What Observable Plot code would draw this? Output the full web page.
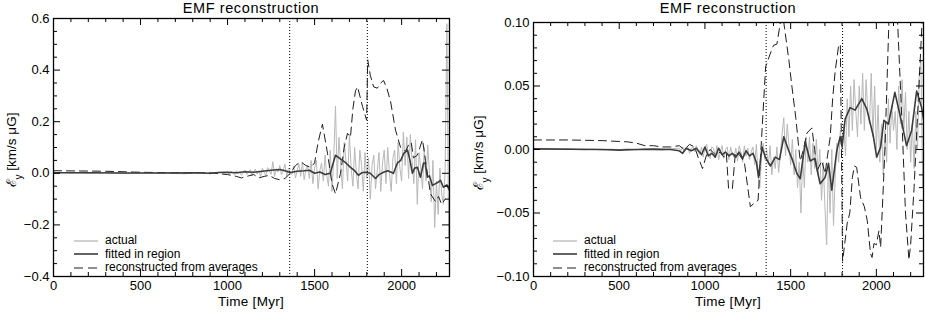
<!DOCTYPE html>
<html><head><meta charset="utf-8">
<script src="https://cdn.jsdelivr.net/npm/d3@7"></script>
<script src="https://cdn.jsdelivr.net/npm/@observablehq/plot@0.6"></script>
<style>
body{margin:0;background:#fff;font-family:"Liberation Sans",Arial,sans-serif;color:#000;font-weight:normal;}
#wrap{position:relative;width:925px;height:313px;overflow:hidden;background:#fff;}
.panel{position:absolute;top:0;}
.title{position:absolute;top:0;font-size:14.5px;line-height:16px;letter-spacing:0.6px;font-weight:normal;transform:translateX(-50%);white-space:nowrap;}
.xlab{position:absolute;top:294px;font-size:13.5px;line-height:16px;letter-spacing:0.3px;font-weight:normal;transform:translateX(-50%);white-space:nowrap;}
.leg{position:absolute;font-size:12px;line-height:13px;white-space:nowrap;}
.leg div{height:13.5px;display:flex;align-items:center;}
.leg svg{margin-right:7px;}
</style></head><body><div id="wrap"></div>
<script>
// ---------- shared axis data ----------
const xDomain = [0, 2275];
const xMajor = [0, 500, 1000, 1500, 2000];
const xMinor = [100,200,300,400,600,700,800,900,1100,1200,1300,1400,1600,1700,1800,1900,2100,2200];
const regionBounds = [1357, 1803];
const titleText = "EMF reconstruction";
const xLabel = "Time [Myr]";
const legendLabels = ["actual", "fitted in region", "reconstructed from averages"];

// ---------- left panel data ----------
const leftYDomain = [-0.4, 0.6];
const leftYMajor = [-0.4, -0.2, 0.0, 0.2, 0.4, 0.6];
const leftYMinor = [-0.35,-0.3,-0.25,-0.15,-0.1,-0.05,0.05,0.1,0.15,0.25,0.3,0.35,0.45,0.5,0.55];

const leftActualEarly = [0.002,0.003,0.001,0.002,0.0,0.001,0.002,0.0,-0.001,0.001,0.0,0.002,-0.001,0.001,0.0,-0.002,0.001,0.003,-0.002,0.004]; // t = 0..950 step 50
const leftActualLate = [ // t = 1000..2280 step 10
 0.004,-0.003,0.008,0.001,-0.006,0.01,-0.002,0.006,-0.008,0.003,
 0.012,-0.004,0.002,0.014,-0.009,0.006,0.016,-0.003,0.01,-0.012,
 0.02,0.004,-0.008,0.022,0.01,-0.004,0.045,-0.012,0.018,0.005,
 0.03,-0.006,0.012,0.035,-0.012,0.02,0.004,-0.004,0.028,-0.018,
 0.01,0.036,-0.012,0.042,-0.025,0.015,0.03,-0.02,0.05,-0.04,
 0.02,0.05,-0.06,0.01,0.04,-0.03,0.07,-0.01,-0.05,0.09,
 -0.07,0.06,0.26,-0.02,0.14,0.03,-0.06,0.12,0.05,-0.03,
 0.15,0.02,-0.05,0.1,0.0,-0.06,0.09,0.03,-0.07,0.08,
 -0.02,0.06,-0.1,0.03,0.07,-0.06,0.01,0.08,-0.07,0.04,
 0.09,-0.04,0.1,0.0,-0.07,0.06,0.09,-0.04,0.12,0.02,
 -0.03,0.16,0.03,0.14,-0.02,0.15,0.05,-0.04,0.13,-0.12,
 0.08,0.02,-0.06,0.1,-0.03,0.11,0.0,-0.11,0.05,-0.21,
 -0.03,-0.16,0.02,-0.08,-0.12,0.01,0.58,-0.25,-0.1
];
const leftFitted = [[0,0.002],[200,0.002],[400,0.001],[600,0.001],[800,0.002],[900,0.0],[950,0.003],[1000,0.004],[1050,0.002],[1100,0.006],[1150,0.004],[1200,0.008],[1250,0.012],[1300,0.015],[1330,0.01],[1360,0.003],[1400,0.008],[1440,0.01],[1470,0.012],[1500,0.0],[1530,0.005],[1560,-0.005],[1590,0.0],[1620,0.07],[1650,0.055],[1680,0.04],[1706,0.023],[1730,0.01],[1752,-0.008],[1770,0.002],[1792,0.004],[1820,0.0],[1850,-0.02],[1870,-0.005],[1896,0.004],[1920,0.01],[1953,0.0],[1976,0.04],[1995,0.05],[2011,0.076],[2034,0.09],[2048,0.05],[2062,0.0],[2075,0.02],[2091,0.023],[2108,-0.015],[2126,0.04],[2135,0.04],[2148,-0.015],[2160,-0.01],[2177,-0.047],[2195,-0.04],[2210,-0.035],[2223,-0.027],[2240,-0.054],[2260,-0.045],[2275,-0.066]];
const leftRecon = [[0,0.01],[300,0.008],[500,0.004],[700,0.002],[900,0.002],[1000,-0.005],[1050,-0.012],[1080,-0.018],[1120,-0.01],[1150,-0.005],[1180,-0.018],[1210,-0.012],[1240,-0.008],[1270,-0.02],[1300,-0.025],[1330,-0.02],[1360,0.0],[1390,0.03],[1420,0.045],[1450,0.03],[1477,0.023],[1500,0.04],[1520,0.12],[1545,0.19],[1574,0.078],[1600,-0.04],[1620,-0.08],[1649,0.0],[1670,0.1],[1689,0.155],[1706,0.14],[1720,0.25],[1735,0.32],[1747,0.335],[1760,0.3],[1775,0.26],[1799,0.206],[1805,0.44],[1820,0.38],[1839,0.335],[1860,0.33],[1880,0.35],[1896,0.36],[1915,0.33],[1936,0.28],[1965,0.167],[1994,0.1],[2022,0.085],[2040,0.11],[2055,0.12],[2068,0.06],[2090,0.07],[2105,0.1],[2120,0.13],[2137,0.05],[2166,-0.08],[2195,-0.11],[2212,-0.09],[2230,-0.12],[2250,-0.1]];

// ---------- right panel data ----------
const rightYDomain = [-0.1, 0.1];
const rightYMajor = [-0.1, -0.05, 0.0, 0.05, 0.1];
const rightYMinor = [-0.09,-0.08,-0.07,-0.06,-0.04,-0.03,-0.02,-0.01,0.01,0.02,0.03,0.04,0.06,0.07,0.08,0.09];

const rightActualEarly = [0.0005,0.0003,0.0006,0.0002,0.0004,0.0,-0.0003,0.0002,-0.0004,0.0003,0.0,0.0005,-0.0002,0.0004,0.0,-0.0005,0.0006]; // t = 0..800 step 50
const rightActualLate = [ // t = 850..2280 step 10
 0.001,-0.001,0.002,-0.002,0.0,0.002,-0.003,0.001,0.002,-0.002,
 0.003,-0.002,-0.004,0.002,-0.006,0.001,0.004,-0.004,-0.007,0.002,
 0.001,-0.006,0.003,-0.008,-0.002,0.003,-0.007,0.0,0.002,-0.008,
 0.002,-0.004,-0.006,0.001,-0.009,0.003,-0.002,-0.01,0.003,-0.005,
 0.001,-0.008,-0.002,0.002,-0.012,0.004,-0.02,-0.03,-0.005,0.005,
 -0.008,0.0,-0.012,0.003,-0.02,-0.006,-0.015,0.002,-0.018,-0.004,
 0.012,0.025,-0.005,0.02,0.004,-0.012,0.008,-0.02,0.0,-0.03,
 -0.01,-0.05,-0.005,-0.03,0.01,-0.01,0.01,-0.02,0.005,-0.015,
 0.008,-0.02,0.0,-0.04,-0.01,-0.045,-0.075,-0.01,-0.05,0.0,
 -0.06,-0.02,0.005,-0.01,0.015,0.0,0.02,-0.005,0.04,0.01,
 0.05,0.015,0.055,0.03,0.01,0.05,0.02,0.06,0.015,0.055,
 0.03,0.02,0.06,0.01,0.05,0.0,0.035,-0.01,0.02,-0.02,
 0.015,-0.01,0.04,0.005,0.035,0.015,0.03,0.0,0.05,0.02,
 0.055,0.015,0.045,0.0,0.03,-0.01,0.02,-0.015,0.03,0.0,
 0.06,0.07,-0.03,0.02
];
const rightFitted = [[0,0.0005],[400,0.0],[500,-0.0005],[600,0.0],[700,0.0003],[800,0.0],[850,-0.001],[870,-0.003],[890,0.001],[920,-0.001],[950,0.001],[980,-0.004],[1000,0.002],[1020,-0.005],[1040,-0.003],[1060,-0.006],[1080,0.001],[1100,-0.004],[1120,-0.002],[1140,-0.005],[1160,-0.003],[1180,-0.006],[1200,-0.002],[1220,-0.007],[1240,-0.001],[1260,-0.005],[1280,-0.003],[1300,-0.01],[1313,-0.022],[1333,0.002],[1352,-0.006],[1382,-0.013],[1411,-0.006],[1435,-0.008],[1460,0.01],[1489,-0.001],[1510,-0.008],[1537,-0.019],[1556,-0.023],[1585,0.006],[1614,-0.009],[1640,-0.007],[1672,-0.027],[1701,-0.022],[1721,-0.011],[1740,-0.032],[1769,-0.001],[1789,0.01],[1800,0.002],[1818,0.024],[1847,0.033],[1876,0.031],[1915,0.04],[1944,0.032],[1983,0.01],[2002,-0.006],[2025,0.002],[2044,0.023],[2070,0.02],[2108,0.045],[2128,0.033],[2150,0.02],[2176,0.003],[2206,0.015],[2235,0.046],[2264,0.033],[2280,0.02]];
const rightRecon = [[0,0.0075],[200,0.0075],[400,0.007],[550,0.006],[600,0.005],[650,0.003],[700,0.003],[750,0.002],[800,0.002],[850,0.003],[880,0.0],[910,0.004],[940,0.002],[960,-0.006],[986,-0.015],[1010,-0.004],[1030,0.0],[1060,-0.004],[1090,-0.002],[1110,-0.006],[1125,-0.003],[1138,-0.031],[1160,-0.031],[1178,-0.002],[1200,-0.004],[1230,-0.01],[1250,-0.03],[1265,-0.045],[1290,-0.042],[1310,-0.04],[1354,0.065],[1380,0.075],[1400,0.082],[1420,0.083],[1440,0.1],[1455,0.105],[1465,0.095],[1490,0.07],[1508,0.049],[1530,0.025],[1547,0.002],[1556,-0.009],[1575,0.0],[1595,0.013],[1624,0.017],[1640,0.0],[1653,-0.017],[1682,-0.009],[1701,-0.019],[1715,-0.005],[1731,0.01],[1745,0.04],[1760,0.062],[1779,0.081],[1790,0.083],[1803,-0.088],[1830,-0.058],[1845,-0.05],[1860,-0.022],[1872,-0.013],[1885,-0.014],[1908,-0.038],[1930,-0.045],[1947,-0.056],[1966,-0.082],[1975,-0.085],[1986,-0.074],[2000,-0.075],[2015,-0.064],[2025,-0.077],[2050,0.0],[2073,0.1],[2085,0.12],[2110,0.12],[2124,0.1],[2150,0.02],[2170,-0.05],[2190,-0.087],[2200,-0.075],[2220,-0.03],[2245,0.04],[2270,0.11]];

function toSeries(early, earlyT, late, lateT){
  return earlyT.map((t,i)=>[t, early[i]]).concat(lateT.map((t,i)=>[t, late[i]]));
}
const leftActual = toSeries(leftActualEarly, d3.range(0, 1000, 50), leftActualLate, d3.range(1000, 2281, 10));
const rightActual = toSeries(rightActualEarly, d3.range(0, 801, 50), rightActualLate, d3.range(850, 2281, 10));

const FONT = "'Liberation Sans', Arial, sans-serif";

function panel(o){
  const W = o.width, H = 313;
  const pw = W - o.ml - o.mr, ph = H - o.mt - o.mb;
  const svg = Plot.plot({
    width: W, height: H,
    marginLeft: o.ml, marginRight: o.mr, marginTop: o.mt, marginBottom: o.mb,
    style: {fontFamily: FONT, fontSize: "13px", background: "white", color: "black", overflow: "visible"},
    x: {domain: xDomain},
    y: {domain: o.yDomain},
    marks: [
      Plot.line(o.actual, {x: d=>d[0], y: d=>d[1], stroke: "#b8b8b8", strokeWidth: 1, clip: true}),
      Plot.ruleX(regionBounds, {x: d=>d, stroke: "#000", strokeWidth: 1, strokeDasharray: "1,2"}),
      Plot.line(o.recon, {x: d=>d[0], y: d=>d[1], stroke: "#1e1e1e", strokeWidth: 1, strokeDasharray: "8,5", clip: true}),
      Plot.line(o.fitted, {x: d=>d[0], y: d=>d[1], stroke: "#3c3c3c", strokeWidth: 1.6, clip: true}),
      Plot.ruleX(xMajor, {x: d=>d, insetTop: ph-7, stroke: "#000"}),
      Plot.ruleX(xMajor, {x: d=>d, insetBottom: ph-7, stroke: "#000"}),
      Plot.ruleX(xMinor, {x: d=>d, insetTop: ph-4, stroke: "#000"}),
      Plot.ruleX(xMinor, {x: d=>d, insetBottom: ph-4, stroke: "#000"}),
      Plot.ruleY(o.yMajor, {y: d=>d, insetRight: pw-7, stroke: "#000"}),
      Plot.ruleY(o.yMajor, {y: d=>d, insetLeft: pw-7, stroke: "#000"}),
      Plot.ruleY(o.yMinor, {y: d=>d, insetRight: pw-4, stroke: "#000"}),
      Plot.ruleY(o.yMinor, {y: d=>d, insetLeft: pw-4, stroke: "#000"}),
      Plot.frame({stroke: "#000", strokeWidth: 1.3}),
      Plot.axisX({ticks: xMajor, tickSize: 0, tickPadding: 4, tickFormat: d3.format("d"), label: null}),
      Plot.axisY({ticks: o.yMajor, tickSize: 0, tickPadding: 4, tickFormat: d3.format(o.fmt), label: null})
    ]
  });
  const s = d3.select(svg);
  const t = s.append("text")
    .attr("transform", `translate(${o.ylx},${o.yly}) rotate(-90)`)
    .attr("text-anchor", "middle")
    .attr("dy", "0.35em")
    .style("font-family", FONT).style("font-size", "13.5px").attr("fill", "#000");
  t.append("tspan").text("ℰ");
  t.append("tspan").attr("baseline-shift", "sub").style("font-size", "10px").text("y");
  t.append("tspan").text(" [km/s μG]");
  svg.classList.add("panel");
  svg.style.left = o.left + "px";
  return svg;
}

const wrap = document.getElementById("wrap");

const panels = [
  {left: 0, width: 462, ml: 53, mr: 13, mt: 18, mb: 37, yDomain: leftYDomain, yMajor: leftYMajor, yMinor: leftYMinor, fmt: ".1f",
   actual: leftActual, fitted: leftFitted, recon: leftRecon, ylx: 11, yly: 150, cx: 251, legX: 74},
  {left: 462, width: 463, ml: 71, mr: 2, mt: 22, mb: 37, yDomain: rightYDomain, yMajor: rightYMajor, yMinor: rightYMinor, fmt: ".2f",
   actual: rightActual, fitted: rightFitted, recon: rightRecon, ylx: 16, yly: 153, cx: 728, legX: 553}
];

const legendStyles = [
  {stroke: "#b8b8b8", width: 1.3, dash: null},
  {stroke: "#3c3c3c", width: 1.6, dash: null},
  {stroke: "#1e1e1e", width: 1, dash: "9,5"}
];

for (const p of panels) {
  wrap.appendChild(panel(p));
  const ti = document.createElement("div");
  ti.className = "title"; ti.style.left = p.cx + "px"; ti.textContent = titleText;
  wrap.appendChild(ti);
  const xl = document.createElement("div");
  xl.className = "xlab"; xl.style.left = p.cx + "px"; xl.textContent = xLabel;
  wrap.appendChild(xl);
  const lg = document.createElement("div");
  lg.className = "leg"; lg.style.left = p.legX + "px"; lg.style.top = "234px";
  legendLabels.forEach((lab, i) => {
    const row = document.createElement("div");
    const st = legendStyles[i];
    row.innerHTML = `<svg width="24" height="6"><line x1="0" y1="3" x2="24" y2="3" stroke="${st.stroke}" stroke-width="${st.width}" ${st.dash ? `stroke-dasharray="${st.dash}"` : ""}/></svg>`;
    const sp = document.createElement("span"); sp.textContent = lab;
    row.appendChild(sp);
    lg.appendChild(row);
  });
  wrap.appendChild(lg);
}
</script>
</body></html>
